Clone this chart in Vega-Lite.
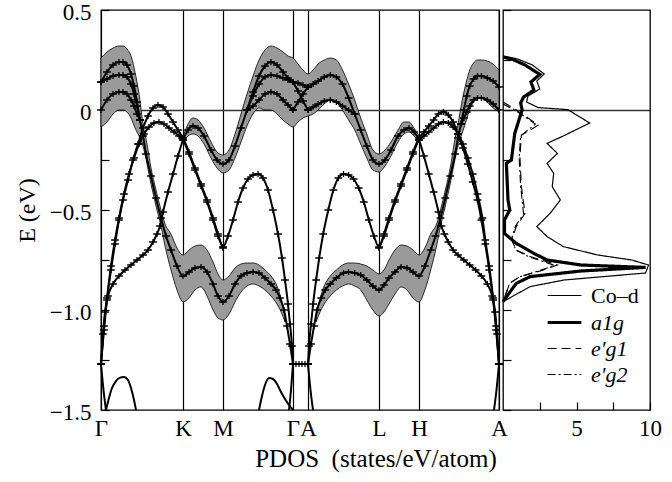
{
  "$schema": "https://vega.github.io/schema/vega-lite/v6.json",
  "background": "white",
  "padding": {"left": 14, "top": 0, "right": 4, "bottom": 4},
  "config": {
    "font": "Liberation Serif",
    "view": {"stroke": "black", "strokeWidth": 1.3},
    "axis": {"labelFont": "Liberation Serif", "titleFont": "Liberation Serif", "labelColor": "black", "titleColor": "black", "titleFontWeight": "normal", "labelFontSize": 23, "titleFontSize": 24, "domain": false, "tickColor": "black", "gridColor": "black"},
    "legend": {"labelFont": "Liberation Serif", "labelColor": "black", "labelFontSize": 22}
  },
  "datasets": {
    "hatch": [
      {"g":"H1","k":0,"lo":-0.085,"hi":0.26},{"g":"H1","k":6,"lo":-0.06,"hi":0.29},{"g":"H1","k":12,"lo":-0.02,"hi":0.31},{"g":"H1","k":18,"lo":0.0,"hi":0.32},{"g":"H1","k":22,"lo":0.0,"hi":0.32},{"g":"H1","k":26,"lo":-0.01,"hi":0.305},{"g":"H1","k":30,"lo":-0.04,"hi":0.27},{"g":"H1","k":34,"lo":-0.09,"hi":0.19},{"g":"H1","k":38,"lo":-0.13,"hi":0.08},{"g":"H1","k":42,"lo":-0.18,"hi":-0.07},{"g":"H1","k":46,"lo":-0.27,"hi":-0.17},{"g":"H1","k":50,"lo":-0.37,"hi":-0.29},{"g":"H1","k":55,"lo":-0.48,"hi":-0.4},{"g":"H1","k":60,"lo":-0.58,"hi":-0.5},{"g":"H1","k":64,"lo":-0.68,"hi":-0.57},{"g":"H1","k":70,"lo":-0.8,"hi":-0.62},{"g":"H1","k":76,"lo":-0.9,"hi":-0.69},{"g":"H1","k":82,"lo":-0.96,"hi":-0.725},{"g":"H1","k":88,"lo":-0.94,"hi":-0.7},{"g":"H1","k":94,"lo":-0.9,"hi":-0.68},{"g":"H1","k":100,"lo":-0.885,"hi":-0.675},{"g":"H1","k":106,"lo":-0.93,"hi":-0.7},{"g":"H1","k":112,"lo":-1.0,"hi":-0.76},{"g":"H1","k":117,"lo":-1.04,"hi":-0.82},{"g":"H1","k":122,"lo":-1.05,"hi":-0.85},{"g":"H1","k":128,"lo":-1.02,"hi":-0.83},{"g":"H1","k":134,"lo":-0.96,"hi":-0.79},{"g":"H1","k":140,"lo":-0.91,"hi":-0.77},{"g":"H1","k":146,"lo":-0.88,"hi":-0.765},{"g":"H1","k":152,"lo":-0.87,"hi":-0.765},{"g":"H1","k":158,"lo":-0.88,"hi":-0.775},{"g":"H1","k":164,"lo":-0.9,"hi":-0.8},{"g":"H1","k":170,"lo":-0.93,"hi":-0.83},{"g":"H1","k":176,"lo":-0.97,"hi":-0.88},{"g":"H1","k":181,"lo":-1.02,"hi":-0.96},{"g":"H1","k":184,"lo":-1.06,"hi":-1.03},
      {"g":"H2","k":82,"lo":-0.165,"hi":-0.135},{"g":"H2","k":87,"lo":-0.13,"hi":-0.07},{"g":"H2","k":92,"lo":-0.12,"hi":-0.04},{"g":"H2","k":97,"lo":-0.13,"hi":-0.05},{"g":"H2","k":103,"lo":-0.17,"hi":-0.09},{"g":"H2","k":110,"lo":-0.24,"hi":-0.16},{"g":"H2","k":116,"lo":-0.29,"hi":-0.21},{"g":"H2","k":122,"lo":-0.315,"hi":-0.225},{"g":"H2","k":128,"lo":-0.3,"hi":-0.2},{"g":"H2","k":134,"lo":-0.24,"hi":-0.12},{"g":"H2","k":140,"lo":-0.16,"hi":-0.02},{"g":"H2","k":146,"lo":-0.08,"hi":0.08},{"g":"H2","k":152,"lo":-0.02,"hi":0.17},{"g":"H2","k":158,"lo":0.01,"hi":0.25},{"g":"H2","k":164,"lo":0.0,"hi":0.3},{"g":"H2","k":170,"lo":0.0,"hi":0.32},{"g":"H2","k":176,"lo":-0.02,"hi":0.31},{"g":"H2","k":182,"lo":-0.05,"hi":0.29},{"g":"H2","k":187,"lo":-0.07,"hi":0.27},{"g":"H2","k":192,"lo":-0.085,"hi":0.26},{"g":"H2","k":197,"lo":-0.06,"hi":0.23},{"g":"H2","k":202,"lo":-0.04,"hi":0.2},{"g":"H2","k":207,"lo":-0.03,"hi":0.18},{"g":"H2","k":212.1,"lo":-0.02,"hi":0.2},{"g":"H2","k":217.1,"lo":0.0,"hi":0.23},{"g":"H2","k":223.2,"lo":0.03,"hi":0.25},{"g":"H2","k":229.3,"lo":0.05,"hi":0.26},{"g":"H2","k":235.4,"lo":0.04,"hi":0.25},{"g":"H2","k":241.5,"lo":0.0,"hi":0.2},{"g":"H2","k":247.6,"lo":-0.05,"hi":0.13},{"g":"H2","k":253.7,"lo":-0.1,"hi":0.05},{"g":"H2","k":259.7,"lo":-0.17,"hi":-0.04},{"g":"H2","k":265.8,"lo":-0.24,"hi":-0.12},{"g":"H2","k":271.9,"lo":-0.3,"hi":-0.2},{"g":"H2","k":278,"lo":-0.31,"hi":-0.22},{"g":"H2","k":284,"lo":-0.28,"hi":-0.2},{"g":"H2","k":290,"lo":-0.23,"hi":-0.16},{"g":"H2","k":297,"lo":-0.16,"hi":-0.1},{"g":"H2","k":303,"lo":-0.12,"hi":-0.06},{"g":"H2","k":308,"lo":-0.11,"hi":-0.06},{"g":"H2","k":313,"lo":-0.13,"hi":-0.09},{"g":"H2","k":318,"lo":-0.16,"hi":-0.13},
      {"g":"H3","k":215.1,"lo":-1.06,"hi":-1.03},{"g":"H3","k":218.2,"lo":-1.02,"hi":-0.96},{"g":"H3","k":223.2,"lo":-0.97,"hi":-0.88},{"g":"H3","k":229.3,"lo":-0.93,"hi":-0.83},{"g":"H3","k":235.4,"lo":-0.9,"hi":-0.8},{"g":"H3","k":241.5,"lo":-0.88,"hi":-0.775},{"g":"H3","k":247.6,"lo":-0.87,"hi":-0.765},{"g":"H3","k":253.7,"lo":-0.88,"hi":-0.765},{"g":"H3","k":259.7,"lo":-0.9,"hi":-0.77},{"g":"H3","k":265.8,"lo":-0.95,"hi":-0.78},{"g":"H3","k":271.9,"lo":-1.0,"hi":-0.8},{"g":"H3","k":278,"lo":-1.03,"hi":-0.82},{"g":"H3","k":283,"lo":-1.01,"hi":-0.8},{"g":"H3","k":288,"lo":-0.97,"hi":-0.75},{"g":"H3","k":294,"lo":-0.92,"hi":-0.7},{"g":"H3","k":300,"lo":-0.885,"hi":-0.675},{"g":"H3","k":306,"lo":-0.9,"hi":-0.68},{"g":"H3","k":312,"lo":-0.94,"hi":-0.7},{"g":"H3","k":318,"lo":-0.96,"hi":-0.725},{"g":"H3","k":323.9,"lo":-0.9,"hi":-0.69},{"g":"H3","k":329.7,"lo":-0.8,"hi":-0.62},{"g":"H3","k":335.6,"lo":-0.68,"hi":-0.57},{"g":"H3","k":339.5,"lo":-0.58,"hi":-0.5},{"g":"H3","k":344.3,"lo":-0.48,"hi":-0.4},{"g":"H3","k":349.2,"lo":-0.37,"hi":-0.29},{"g":"H3","k":353.1,"lo":-0.27,"hi":-0.17},{"g":"H3","k":357,"lo":-0.18,"hi":-0.07},{"g":"H3","k":360.9,"lo":-0.12,"hi":0.04},{"g":"H3","k":364.8,"lo":-0.06,"hi":0.13},{"g":"H3","k":368.7,"lo":0.0,"hi":0.2},{"g":"H3","k":372.6,"lo":0.04,"hi":0.235},{"g":"H3","k":376.5,"lo":0.06,"hi":0.25},{"g":"H3","k":380.4,"lo":0.06,"hi":0.25},{"g":"H3","k":386.3,"lo":0.04,"hi":0.245},{"g":"H3","k":392.1,"lo":0.01,"hi":0.23},{"g":"H3","k":398,"lo":-0.01,"hi":0.2}
    ],
    "bands": [
      {"b":"L1","k":0,"E":0.14,"m":1},{"b":"L1","k":6,"E":0.19,"m":1},{"b":"L1","k":12,"E":0.225,"m":1},{"b":"L1","k":18,"E":0.24,"m":1},{"b":"L1","k":22,"E":0.24,"m":1},{"b":"L1","k":26,"E":0.225,"m":1},{"b":"L1","k":30,"E":0.18,"m":1},{"b":"L1","k":33,"E":0.12,"m":1},{"b":"L1","k":36,"E":0.04,"m":1},{"b":"L1","k":39,"E":-0.05,"m":1},{"b":"L1","k":42,"E":-0.13,"m":1},{"b":"L1","k":45,"E":-0.22,"m":1},{"b":"L1","k":50,"E":-0.33,"m":1},{"b":"L1","k":55,"E":-0.44,"m":1},{"b":"L1","k":60,"E":-0.54,"m":1},{"b":"L1","k":65,"E":-0.63,"m":1},{"b":"L1","k":70,"E":-0.7,"m":1},{"b":"L1","k":76,"E":-0.78,"m":1},{"b":"L1","k":82,"E":-0.83,"m":1},{"b":"L1","k":88,"E":-0.81,"m":1},{"b":"L1","k":94,"E":-0.79,"m":1},{"b":"L1","k":100,"E":-0.785,"m":1},{"b":"L1","k":106,"E":-0.81,"m":1},{"b":"L1","k":112,"E":-0.87,"m":1},{"b":"L1","k":117,"E":-0.93,"m":1},{"b":"L1","k":122,"E":-0.96,"m":1},{"b":"L1","k":128,"E":-0.93,"m":1},{"b":"L1","k":134,"E":-0.87,"m":1},{"b":"L1","k":140,"E":-0.83,"m":1},{"b":"L1","k":146,"E":-0.815,"m":1},{"b":"L1","k":152,"E":-0.81,"m":1},{"b":"L1","k":158,"E":-0.815,"m":1},{"b":"L1","k":164,"E":-0.84,"m":1},{"b":"L1","k":170,"E":-0.87,"m":1},{"b":"L1","k":175,"E":-0.9,"m":1},{"b":"L1","k":179,"E":-0.94,"m":1},{"b":"L1","k":183,"E":-1.0,"m":1},{"b":"L1","k":186,"E":-1.08,"m":1},{"b":"L1","k":189,"E":-1.17,"m":1},{"b":"L1","k":192,"E":-1.27,"m":1},
      {"b":"L2","k":0,"E":0.14,"m":1},{"b":"L2","k":6,"E":0.155,"m":1},{"b":"L2","k":12,"E":0.17,"m":1},{"b":"L2","k":18,"E":0.175,"m":1},{"b":"L2","k":22,"E":0.175,"m":1},{"b":"L2","k":26,"E":0.165,"m":1},{"b":"L2","k":30,"E":0.13,"m":1},{"b":"L2","k":33,"E":0.08,"m":1},{"b":"L2","k":36,"E":0.02,"m":1},{"b":"L2","k":39,"E":-0.05,"m":1},
      {"b":"L3","k":0,"E":0.0,"m":1},{"b":"L3","k":6,"E":0.05,"m":1},{"b":"L3","k":12,"E":0.08,"m":1},{"b":"L3","k":18,"E":0.09,"m":1},{"b":"L3","k":22,"E":0.09,"m":1},{"b":"L3","k":26,"E":0.08,"m":1},{"b":"L3","k":30,"E":0.05,"m":1},{"b":"L3","k":33,"E":0.02,"m":1},{"b":"L3","k":36,"E":-0.02,"m":1},{"b":"L3","k":39,"E":-0.05,"m":1},
      {"b":"A1","k":0,"E":-1.27,"m":1},{"b":"A1","k":3,"E":-1.1,"m":1},{"b":"A1","k":6,"E":-0.95,"m":1},{"b":"A1","k":10,"E":-0.8,"m":1},{"b":"A1","k":14,"E":-0.67,"m":1},{"b":"A1","k":18,"E":-0.55,"m":1},{"b":"A1","k":22,"E":-0.45,"m":1},{"b":"A1","k":27,"E":-0.35,"m":1},{"b":"A1","k":32,"E":-0.25,"m":1},{"b":"A1","k":37,"E":-0.17,"m":1},{"b":"A1","k":42,"E":-0.09,"m":1},{"b":"A1","k":47,"E":-0.03,"m":1},{"b":"A1","k":52,"E":0.01,"m":1},{"b":"A1","k":57,"E":0.025,"m":1},{"b":"A1","k":62,"E":0.015,"m":1},{"b":"A1","k":67,"E":-0.02,"m":1},{"b":"A1","k":72,"E":-0.06,"m":1},{"b":"A1","k":77,"E":-0.1,"m":1},{"b":"A1","k":82,"E":-0.14,"m":1},{"b":"A1","k":88,"E":-0.21,"m":1},{"b":"A1","k":94,"E":-0.29,"m":1},{"b":"A1","k":100,"E":-0.37,"m":1},{"b":"A1","k":106,"E":-0.45,"m":1},{"b":"A1","k":112,"E":-0.54,"m":1},{"b":"A1","k":117,"E":-0.62,"m":1},{"b":"A1","k":122,"E":-0.685,"m":1},{"b":"A1","k":127,"E":-0.63,"m":1},{"b":"A1","k":132,"E":-0.55,"m":1},{"b":"A1","k":137,"E":-0.46,"m":1},{"b":"A1","k":142,"E":-0.39,"m":1},{"b":"A1","k":147,"E":-0.345,"m":1},{"b":"A1","k":152,"E":-0.325,"m":1},{"b":"A1","k":157,"E":-0.32,"m":1},{"b":"A1","k":162,"E":-0.34,"m":1},{"b":"A1","k":167,"E":-0.4,"m":1},{"b":"A1","k":172,"E":-0.5,"m":1},{"b":"A1","k":177,"E":-0.62,"m":1},{"b":"A1","k":181,"E":-0.74,"m":1},{"b":"A1","k":184,"E":-0.85,"m":1},{"b":"A1","k":187,"E":-0.97,"m":1},{"b":"A1","k":189,"E":-1.07,"m":1},{"b":"A1","k":191,"E":-1.18,"m":1},{"b":"A1","k":192,"E":-1.27,"m":1},
      {"b":"A2","k":0,"E":-1.27,"m":1},{"b":"A2","k":3,"E":-1.08,"m":1},{"b":"A2","k":6,"E":-0.94,"m":1},{"b":"A2","k":10,"E":-0.78,"m":1},{"b":"A2","k":14,"E":-0.65,"m":1},{"b":"A2","k":18,"E":-0.54,"m":1},{"b":"A2","k":23,"E":-0.42,"m":1},{"b":"A2","k":28,"E":-0.32,"m":1},{"b":"A2","k":33,"E":-0.24,"m":1},{"b":"A2","k":38,"E":-0.17,"m":1},{"b":"A2","k":43,"E":-0.12,"m":1},{"b":"A2","k":48,"E":-0.085,"m":1},{"b":"A2","k":53,"E":-0.065,"m":1},{"b":"A2","k":58,"E":-0.06,"m":1},{"b":"A2","k":63,"E":-0.07,"m":1},{"b":"A2","k":68,"E":-0.09,"m":1},{"b":"A2","k":73,"E":-0.11,"m":1},{"b":"A2","k":78,"E":-0.13,"m":1},{"b":"A2","k":82,"E":-0.15,"m":1},{"b":"A2","k":88,"E":-0.22,"m":1},{"b":"A2","k":94,"E":-0.3,"m":1},{"b":"A2","k":100,"E":-0.38,"m":1},{"b":"A2","k":106,"E":-0.46,"m":1},{"b":"A2","k":112,"E":-0.55,"m":1},{"b":"A2","k":117,"E":-0.63,"m":1},{"b":"A2","k":122,"E":-0.69,"m":1},
      {"b":"S","k":0,"E":-1.27,"m":1},{"b":"S","k":2,"E":-1.12,"m":1},{"b":"S","k":4,"E":-1.01,"m":1},{"b":"S","k":7,"E":-0.93,"m":1},{"b":"S","k":12,"E":-0.87,"m":1},{"b":"S","k":18,"E":-0.83,"m":1},{"b":"S","k":24,"E":-0.8,"m":1},{"b":"S","k":30,"E":-0.775,"m":1},{"b":"S","k":36,"E":-0.75,"m":1},{"b":"S","k":42,"E":-0.725,"m":1},{"b":"S","k":47,"E":-0.7,"m":1},{"b":"S","k":52,"E":-0.66,"m":1},{"b":"S","k":56,"E":-0.62,"m":1},{"b":"S","k":59,"E":-0.58,"m":1},{"b":"S","k":62,"E":-0.51,"m":1},{"b":"S","k":67,"E":-0.41,"m":1},{"b":"S","k":72,"E":-0.32,"m":1},{"b":"S","k":77,"E":-0.23,"m":1},{"b":"S","k":82,"E":-0.15,"m":1},{"b":"S","k":87,"E":-0.1,"m":1},{"b":"S","k":92,"E":-0.08,"m":1},{"b":"S","k":97,"E":-0.09,"m":1},{"b":"S","k":103,"E":-0.13,"m":1},{"b":"S","k":110,"E":-0.2,"m":1},{"b":"S","k":116,"E":-0.25,"m":1},{"b":"S","k":122,"E":-0.27,"m":1},{"b":"S","k":128,"E":-0.25,"m":1},{"b":"S","k":134,"E":-0.18,"m":1},{"b":"S","k":140,"E":-0.09,"m":1},{"b":"S","k":146,"E":0.0,"m":1},{"b":"S","k":152,"E":0.09,"m":1},{"b":"S","k":158,"E":0.17,"m":1},{"b":"S","k":164,"E":0.22,"m":1},{"b":"S","k":170,"E":0.24,"m":1},{"b":"S","k":176,"E":0.225,"m":1},{"b":"S","k":182,"E":0.19,"m":1},{"b":"S","k":187,"E":0.16,"m":1},{"b":"S","k":192,"E":0.14,"m":1},
      {"b":"R2","k":146,"E":0.0,"m":1},{"b":"R2","k":152,"E":0.07,"m":1},{"b":"R2","k":158,"E":0.13,"m":1},{"b":"R2","k":164,"E":0.165,"m":1},{"b":"R2","k":170,"E":0.175,"m":1},{"b":"R2","k":176,"E":0.17,"m":1},{"b":"R2","k":182,"E":0.16,"m":1},{"b":"R2","k":187,"E":0.15,"m":1},{"b":"R2","k":192,"E":0.14,"m":1},
      {"b":"R3","k":146,"E":0.0,"m":1},{"b":"R3","k":152,"E":0.02,"m":1},{"b":"R3","k":158,"E":0.05,"m":1},{"b":"R3","k":164,"E":0.08,"m":1},{"b":"R3","k":170,"E":0.09,"m":1},{"b":"R3","k":176,"E":0.08,"m":1},{"b":"R3","k":182,"E":0.05,"m":1},{"b":"R3","k":187,"E":0.025,"m":1},{"b":"R3","k":192,"E":0.0,"m":1},
      {"b":"BA1","k":5,"E":-1.5,"m":0},{"b":"BA1","k":8,"E":-1.44,"m":0},{"b":"BA1","k":11,"E":-1.39,"m":0},{"b":"BA1","k":15,"E":-1.355,"m":0},{"b":"BA1","k":19,"E":-1.338,"m":0},{"b":"BA1","k":23,"E":-1.335,"m":0},{"b":"BA1","k":27,"E":-1.35,"m":0},{"b":"BA1","k":30,"E":-1.39,"m":0},{"b":"BA1","k":33,"E":-1.45,"m":0},{"b":"BA1","k":35,"E":-1.5,"m":0},
      {"b":"BA2","k":158,"E":-1.5,"m":0},{"b":"BA2","k":161,"E":-1.43,"m":0},{"b":"BA2","k":164,"E":-1.375,"m":0},{"b":"BA2","k":168,"E":-1.34,"m":0},{"b":"BA2","k":172,"E":-1.345,"m":0},{"b":"BA2","k":176,"E":-1.37,"m":0},{"b":"BA2","k":180,"E":-1.41,"m":0},{"b":"BA2","k":184,"E":-1.445,"m":0},{"b":"BA2","k":188,"E":-1.475,"m":0},{"b":"BA2","k":192,"E":-1.5,"m":0},
      {"b":"DL","k":0,"E":-1.27,"m":0},{"b":"DL","k":2.5,"E":-1.4,"m":0},{"b":"DL","k":5,"E":-1.5,"m":0},
      {"b":"DR","k":188,"E":-1.5,"m":0},{"b":"DR","k":190,"E":-1.4,"m":0},{"b":"DR","k":192,"E":-1.27,"m":0},
      {"b":"G0","k":192,"E":-1.27,"m":1},{"b":"G0","k":195,"E":-1.27,"m":1},{"b":"G0","k":198,"E":-1.27,"m":1},{"b":"G0","k":201,"E":-1.27,"m":1},{"b":"G0","k":204,"E":-1.27,"m":1},{"b":"G0","k":207,"E":-1.27,"m":1},
      {"b":"Ga","k":192,"E":0.14,"m":1},{"b":"Ga","k":197,"E":0.135,"m":1},{"b":"Ga","k":202,"E":0.125,"m":1},{"b":"Ga","k":207,"E":0.115,"m":1},
      {"b":"Gb","k":192,"E":0.14,"m":1},{"b":"Gb","k":197,"E":0.095,"m":1},{"b":"Gb","k":202,"E":0.045,"m":1},{"b":"Gb","k":207,"E":0.0,"m":1},
      {"b":"Gc","k":192,"E":0.0,"m":1},{"b":"Gc","k":197,"E":0.04,"m":1},{"b":"Gc","k":202,"E":0.08,"m":1},{"b":"Gc","k":207,"E":0.115,"m":1},
      {"b":"L1p","k":207,"E":-1.27,"m":1},{"b":"L1p","k":210,"E":-1.17,"m":1},{"b":"L1p","k":213.1,"E":-1.08,"m":1},{"b":"L1p","k":216.1,"E":-1.0,"m":1},{"b":"L1p","k":220.2,"E":-0.94,"m":1},{"b":"L1p","k":224.2,"E":-0.9,"m":1},{"b":"L1p","k":229.3,"E":-0.87,"m":1},{"b":"L1p","k":235.4,"E":-0.84,"m":1},{"b":"L1p","k":242.5,"E":-0.815,"m":1},{"b":"L1p","k":247.6,"E":-0.81,"m":1},{"b":"L1p","k":253.7,"E":-0.815,"m":1},{"b":"L1p","k":259.7,"E":-0.825,"m":1},{"b":"L1p","k":265.8,"E":-0.85,"m":1},{"b":"L1p","k":271.9,"E":-0.88,"m":1},{"b":"L1p","k":278,"E":-0.9,"m":1},{"b":"L1p","k":283,"E":-0.875,"m":1},{"b":"L1p","k":288,"E":-0.84,"m":1},{"b":"L1p","k":294,"E":-0.81,"m":1},{"b":"L1p","k":300,"E":-0.785,"m":1},{"b":"L1p","k":306,"E":-0.79,"m":1},{"b":"L1p","k":312,"E":-0.81,"m":1},{"b":"L1p","k":318,"E":-0.83,"m":1},{"b":"L1p","k":323.9,"E":-0.78,"m":1},{"b":"L1p","k":329.7,"E":-0.7,"m":1},{"b":"L1p","k":334.6,"E":-0.63,"m":1},{"b":"L1p","k":339.5,"E":-0.54,"m":1},{"b":"L1p","k":344.3,"E":-0.44,"m":1},{"b":"L1p","k":349.2,"E":-0.33,"m":1},{"b":"L1p","k":354.1,"E":-0.22,"m":1},{"b":"L1p","k":357,"E":-0.14,"m":1},{"b":"L1p","k":360,"E":-0.07,"m":1},{"b":"L1p","k":362.9,"E":0.0,"m":1},{"b":"L1p","k":365.8,"E":0.07,"m":1},{"b":"L1p","k":368.7,"E":0.12,"m":1},{"b":"L1p","k":372.6,"E":0.155,"m":1},{"b":"L1p","k":376.5,"E":0.17,"m":1},{"b":"L1p","k":380.4,"E":0.17,"m":1},{"b":"L1p","k":386.3,"E":0.16,"m":1},{"b":"L1p","k":392.1,"E":0.145,"m":1},{"b":"L1p","k":398,"E":0.115,"m":1},
      {"b":"L3p","k":360,"E":-0.07,"m":1},{"b":"L3p","k":362.9,"E":-0.04,"m":1},{"b":"L3p","k":365.8,"E":-0.01,"m":1},{"b":"L3p","k":368.7,"E":0.02,"m":1},{"b":"L3p","k":372.6,"E":0.05,"m":1},{"b":"L3p","k":376.5,"E":0.06,"m":1},{"b":"L3p","k":380.4,"E":0.06,"m":1},{"b":"L3p","k":386.3,"E":0.05,"m":1},{"b":"L3p","k":392.1,"E":0.03,"m":1},{"b":"L3p","k":398,"E":0.0,"m":1},
      {"b":"A1p","k":207,"E":-1.27,"m":1},{"b":"A1p","k":208,"E":-1.18,"m":1},{"b":"A1p","k":210,"E":-1.07,"m":1},{"b":"A1p","k":212.1,"E":-0.97,"m":1},{"b":"A1p","k":215.1,"E":-0.85,"m":1},{"b":"A1p","k":218.2,"E":-0.74,"m":1},{"b":"A1p","k":222.2,"E":-0.62,"m":1},{"b":"A1p","k":227.3,"E":-0.5,"m":1},{"b":"A1p","k":232.4,"E":-0.4,"m":1},{"b":"A1p","k":237.4,"E":-0.34,"m":1},{"b":"A1p","k":242.5,"E":-0.32,"m":1},{"b":"A1p","k":247.6,"E":-0.325,"m":1},{"b":"A1p","k":252.6,"E":-0.345,"m":1},{"b":"A1p","k":257.7,"E":-0.39,"m":1},{"b":"A1p","k":262.8,"E":-0.46,"m":1},{"b":"A1p","k":267.9,"E":-0.55,"m":1},{"b":"A1p","k":272.9,"E":-0.63,"m":1},{"b":"A1p","k":278,"E":-0.685,"m":1},{"b":"A1p","k":283,"E":-0.62,"m":1},{"b":"A1p","k":288,"E":-0.54,"m":1},{"b":"A1p","k":294,"E":-0.45,"m":1},{"b":"A1p","k":300,"E":-0.37,"m":1},{"b":"A1p","k":306,"E":-0.29,"m":1},{"b":"A1p","k":312,"E":-0.21,"m":1},{"b":"A1p","k":318,"E":-0.14,"m":1},{"b":"A1p","k":322.9,"E":-0.11,"m":1},{"b":"A1p","k":327.8,"E":-0.08,"m":1},{"b":"A1p","k":332.6,"E":-0.05,"m":1},{"b":"A1p","k":337.5,"E":-0.02,"m":1},{"b":"A1p","k":342.4,"E":-0.01,"m":1},{"b":"A1p","k":347.3,"E":-0.025,"m":1},{"b":"A1p","k":352.1,"E":-0.06,"m":1},{"b":"A1p","k":357,"E":-0.12,"m":1},{"b":"A1p","k":361.9,"E":-0.19,"m":1},{"b":"A1p","k":366.8,"E":-0.27,"m":1},{"b":"A1p","k":371.7,"E":-0.36,"m":1},{"b":"A1p","k":376.5,"E":-0.45,"m":1},{"b":"A1p","k":380.4,"E":-0.55,"m":1},{"b":"A1p","k":384.3,"E":-0.67,"m":1},{"b":"A1p","k":388.2,"E":-0.8,"m":1},{"b":"A1p","k":392.1,"E":-0.95,"m":1},{"b":"A1p","k":395.1,"E":-1.1,"m":1},{"b":"A1p","k":398,"E":-1.27,"m":1},
      {"b":"A2p","k":278,"E":-0.69,"m":1},{"b":"A2p","k":283,"E":-0.63,"m":1},{"b":"A2p","k":288,"E":-0.55,"m":1},{"b":"A2p","k":294,"E":-0.46,"m":1},{"b":"A2p","k":300,"E":-0.38,"m":1},{"b":"A2p","k":306,"E":-0.3,"m":1},{"b":"A2p","k":312,"E":-0.22,"m":1},{"b":"A2p","k":318,"E":-0.15,"m":1},{"b":"A2p","k":322.9,"E":-0.13,"m":1},{"b":"A2p","k":327.8,"E":-0.11,"m":1},{"b":"A2p","k":332.6,"E":-0.09,"m":1},{"b":"A2p","k":337.5,"E":-0.07,"m":1},{"b":"A2p","k":342.4,"E":-0.06,"m":1},{"b":"A2p","k":347.3,"E":-0.065,"m":1},{"b":"A2p","k":352.1,"E":-0.085,"m":1},{"b":"A2p","k":357,"E":-0.12,"m":1},{"b":"A2p","k":361.9,"E":-0.17,"m":1},{"b":"A2p","k":366.8,"E":-0.24,"m":1},{"b":"A2p","k":371.7,"E":-0.32,"m":1},{"b":"A2p","k":376.5,"E":-0.42,"m":1},{"b":"A2p","k":381.4,"E":-0.54,"m":1},{"b":"A2p","k":384.3,"E":-0.65,"m":1},{"b":"A2p","k":388.2,"E":-0.78,"m":1},{"b":"A2p","k":392.1,"E":-0.94,"m":1},{"b":"A2p","k":395.1,"E":-1.08,"m":1},{"b":"A2p","k":398,"E":-1.27,"m":1},
      {"b":"Sp","k":207,"E":0.115,"m":1},{"b":"Sp","k":212.1,"E":0.13,"m":1},{"b":"Sp","k":217.1,"E":0.145,"m":1},{"b":"Sp","k":223.2,"E":0.165,"m":1},{"b":"Sp","k":229.3,"E":0.175,"m":1},{"b":"Sp","k":235.4,"E":0.165,"m":1},{"b":"Sp","k":241.5,"E":0.13,"m":1},{"b":"Sp","k":247.6,"E":0.06,"m":1},{"b":"Sp","k":253.7,"E":-0.02,"m":1},{"b":"Sp","k":259.7,"E":-0.1,"m":1},{"b":"Sp","k":265.8,"E":-0.18,"m":1},{"b":"Sp","k":271.9,"E":-0.25,"m":1},{"b":"Sp","k":278,"E":-0.27,"m":1},{"b":"Sp","k":284,"E":-0.25,"m":1},{"b":"Sp","k":290,"E":-0.2,"m":1},{"b":"Sp","k":297,"E":-0.13,"m":1},{"b":"Sp","k":303,"E":-0.1,"m":1},{"b":"Sp","k":308,"E":-0.09,"m":1},{"b":"Sp","k":313,"E":-0.11,"m":1},{"b":"Sp","k":318,"E":-0.15,"m":1},{"b":"Sp","k":322.9,"E":-0.23,"m":1},{"b":"Sp","k":327.8,"E":-0.32,"m":1},{"b":"Sp","k":332.6,"E":-0.41,"m":1},{"b":"Sp","k":337.5,"E":-0.51,"m":1},{"b":"Sp","k":340.4,"E":-0.58,"m":1},{"b":"Sp","k":343.4,"E":-0.62,"m":1},{"b":"Sp","k":347.3,"E":-0.66,"m":1},{"b":"Sp","k":352.1,"E":-0.7,"m":1},{"b":"Sp","k":357,"E":-0.725,"m":1},{"b":"Sp","k":362.9,"E":-0.75,"m":1},{"b":"Sp","k":368.7,"E":-0.775,"m":1},{"b":"Sp","k":374.6,"E":-0.8,"m":1},{"b":"Sp","k":380.4,"E":-0.83,"m":1},{"b":"Sp","k":386.3,"E":-0.87,"m":1},{"b":"Sp","k":391.2,"E":-0.93,"m":1},{"b":"Sp","k":394.1,"E":-1.01,"m":1},{"b":"Sp","k":396,"E":-1.12,"m":1},{"b":"Sp","k":398,"E":-1.27,"m":1},
      {"b":"R3p","k":207,"E":0.0,"m":1},{"b":"R3p","k":212.1,"E":0.015,"m":1},{"b":"R3p","k":217.1,"E":0.03,"m":1},{"b":"R3p","k":223.2,"E":0.045,"m":1},{"b":"R3p","k":229.3,"E":0.05,"m":1},{"b":"R3p","k":235.4,"E":0.04,"m":1},{"b":"R3p","k":241.5,"E":0.02,"m":1},{"b":"R3p","k":247.6,"E":0.0,"m":1},{"b":"R3p","k":253.7,"E":-0.02,"m":1},
      {"b":"DA1","k":207,"E":-1.27,"m":0},{"b":"DA1","k":209.5,"E":-1.4,"m":0},{"b":"DA1","k":212,"E":-1.5,"m":0},
      {"b":"DA2","k":393,"E":-1.5,"m":0},{"b":"DA2","k":395.5,"E":-1.4,"m":0},{"b":"DA2","k":398,"E":-1.27,"m":0}
    ],
    "pdos": [
      {"s":"Co–d","v":0.0,"E":0.27},{"s":"Co–d","v":1.0,"E":0.255},{"s":"Co–d","v":2.0,"E":0.225},{"s":"Co–d","v":2.8,"E":0.18},{"s":"Co–d","v":2.3,"E":0.145},{"s":"Co–d","v":2.5,"E":0.105},{"s":"Co–d","v":1.7,"E":0.07},{"s":"Co–d","v":1.6,"E":0.04},{"s":"Co–d","v":2.4,"E":0.012},{"s":"Co–d","v":4.4,"E":0.002},{"s":"Co–d","v":5.9,"E":-0.065},{"s":"Co–d","v":4.1,"E":-0.13},{"s":"Co–d","v":3.0,"E":-0.167},{"s":"Co–d","v":3.7,"E":-0.217},{"s":"Co–d","v":3.0,"E":-0.267},{"s":"Co–d","v":3.45,"E":-0.317},{"s":"Co–d","v":3.35,"E":-0.383},{"s":"Co–d","v":3.9,"E":-0.45},{"s":"Co–d","v":3.2,"E":-0.517},{"s":"Co–d","v":2.3,"E":-0.583},{"s":"Co–d","v":3.0,"E":-0.633},{"s":"Co–d","v":4.1,"E":-0.683},{"s":"Co–d","v":6.45,"E":-0.725},{"s":"Co–d","v":8.75,"E":-0.75},{"s":"Co–d","v":9.9,"E":-0.775},{"s":"Co–d","v":9.7,"E":-0.815},{"s":"Co–d","v":4.15,"E":-0.85},{"s":"Co–d","v":1.85,"E":-0.883},{"s":"Co–d","v":0.0,"E":-0.958},
      {"s":"a1g","v":0.0,"E":0.265},{"s":"a1g","v":0.6,"E":0.255},{"s":"a1g","v":1.5,"E":0.225},{"s":"a1g","v":2.5,"E":0.178},{"s":"a1g","v":1.9,"E":0.14},{"s":"a1g","v":2.1,"E":0.1},{"s":"a1g","v":1.4,"E":0.065},{"s":"a1g","v":1.2,"E":0.035},{"s":"a1g","v":1.3,"E":0.0},{"s":"a1g","v":0.8,"E":-0.117},{"s":"a1g","v":0.57,"E":-0.25},{"s":"a1g","v":0.23,"E":-0.267},{"s":"a1g","v":0.34,"E":-0.45},{"s":"a1g","v":0.46,"E":-0.5},{"s":"a1g","v":0.1,"E":-0.55},{"s":"a1g","v":0.1,"E":-0.617},{"s":"a1g","v":0.9,"E":-0.667},{"s":"a1g","v":2.1,"E":-0.717},{"s":"a1g","v":3.0,"E":-0.75},{"s":"a1g","v":5.3,"E":-0.775},{"s":"a1g","v":9.7,"E":-0.787},{"s":"a1g","v":5.3,"E":-0.805},{"s":"a1g","v":1.85,"E":-0.833},{"s":"a1g","v":0.9,"E":-0.867},{"s":"a1g","v":0.0,"E":-0.958},
      {"s":"e′g1","v":0.0,"E":0.04},{"s":"e′g1","v":0.9,"E":0.0},{"s":"e′g1","v":2.4,"E":-0.075},{"s":"e′g1","v":1.85,"E":-0.1},{"s":"e′g1","v":1.25,"E":-0.125},{"s":"e′g1","v":1.15,"E":-0.233},{"s":"e′g1","v":1.25,"E":-0.383},{"s":"e′g1","v":1.5,"E":-0.517},{"s":"e′g1","v":0.9,"E":-0.583},{"s":"e′g1","v":0.6,"E":-0.65},{"s":"e′g1","v":0.9,"E":-0.7},{"s":"e′g1","v":1.85,"E":-0.733},{"s":"e′g1","v":3.7,"E":-0.775},{"s":"e′g1","v":2.75,"E":-0.8},{"s":"e′g1","v":1.15,"E":-0.833},{"s":"e′g1","v":0.46,"E":-0.867},{"s":"e′g1","v":0.0,"E":-0.958},
      {"s":"e′g2","v":0.0,"E":0.03},{"s":"e′g2","v":0.8,"E":0.0},{"s":"e′g2","v":2.2,"E":-0.07},{"s":"e′g2","v":1.7,"E":-0.1},{"s":"e′g2","v":1.2,"E":-0.13},{"s":"e′g2","v":1.1,"E":-0.24},{"s":"e′g2","v":1.2,"E":-0.38},{"s":"e′g2","v":1.4,"E":-0.52},{"s":"e′g2","v":0.85,"E":-0.58},{"s":"e′g2","v":0.6,"E":-0.64},{"s":"e′g2","v":0.85,"E":-0.7},{"s":"e′g2","v":1.8,"E":-0.735},{"s":"e′g2","v":3.5,"E":-0.777},{"s":"e′g2","v":2.6,"E":-0.8},{"s":"e′g2","v":1.1,"E":-0.835},{"s":"e′g2","v":0.45,"E":-0.867},{"s":"e′g2","v":0.0,"E":-0.958}
    ]
  },
  "spacing": 4,
  "bounds": "flush",
  "resolve": {"scale": {"strokeDash": "independent", "strokeWidth": "independent"}, "legend": {"strokeDash": "independent", "strokeWidth": "independent"}},
  "hconcat": [
    {
      "width": 398,
      "height": 400,
      "layer": [
        {
          "data": {"name": "hatch"},
          "mark": {"type": "area", "fill": "#9a9a9a", "stroke": "black", "strokeWidth": 0.8, "interpolate": "monotone"},
          "encoding": {
            "x": {"field": "k", "type": "quantitative", "title": "PDOS\u2002(states/eV/atom)",
              "scale": {"domain": [0, 398], "nice": false, "zero": false},
              "axis": {"values": [0, 82, 122, 192, 207, 278, 318, 398],
                "labelExpr": "datum.value == 0 ? 'Γ' : datum.value == 82 ? 'K' : datum.value == 122 ? 'M' : datum.value == 192 ? 'Γ' : datum.value == 207 ? 'A' : datum.value == 278 ? 'L' : datum.value == 318 ? 'H' : 'A'",
                "grid": true, "gridColor": "black", "gridWidth": 1.2, "ticks": false, "labelFlush": false, "labelOverlap": false,
                "labelPadding": 7, "titleX": 274.5, "titleAlign": "center", "titleFontSize": 25, "titlePadding": 6}},
            "y": {"field": "lo", "type": "quantitative", "title": "E (eV)",
              "scale": {"domain": [-1.5, 0.5], "nice": false, "zero": false},
              "axis": {"values": [-1.5, -1.25, -1, -0.75, -0.5, -0.25, 0, 0.25, 0.5],
                "labelExpr": "datum.value == 0 ? '0' : (abs(datum.value * 2 - round(datum.value * 2)) > 0.01 ? '' : format(datum.value, '.1f'))",
                "tickSize": -8, "tickWidth": 1.2, "labelPadding": 18, "labelOverlap": false, "labelOffset": 2,
                "grid": true, "gridColor": "#333333", "gridWidth": 1.3,
                "gridOpacity": {"condition": {"test": "datum.value == 0", "value": 1}, "value": 0},
                "titlePadding": 10}},
            "y2": {"field": "hi"},
            "detail": {"field": "g"}
          }
        },
        {
          "data": {"name": "bands"},
          "mark": {"type": "line", "color": "black", "strokeWidth": 2, "interpolate": "monotone"},
          "encoding": {
            "x": {"field": "k", "type": "quantitative", "title": "PDOS\u2002(states/eV/atom)"},
            "y": {"field": "E", "type": "quantitative", "title": "E (eV)"},
            "detail": {"field": "b"}
          }
        },
        {
          "data": {"name": "bands"},
          "transform": [{"filter": "datum.m == 1"}],
          "mark": {"type": "point", "shape": "M-1,0H1M0,-0.75V0.75", "size": 60, "stroke": "black", "strokeWidth": 1.3, "filled": false, "opacity": 1},
          "encoding": {
            "x": {"field": "k", "type": "quantitative", "title": "PDOS\u2002(states/eV/atom)"},
            "y": {"field": "E", "type": "quantitative", "title": "E (eV)"}
          }
        }
      ]
    },
    {
      "width": 147,
      "height": 400,
      "data": {"name": "pdos"},
      "mark": {"type": "line", "color": "black", "interpolate": "linear"},
      "encoding": {
        "x": {"field": "v", "type": "quantitative", "scale": {"domain": [0, 10], "nice": false, "zero": false},
          "axis": {"values": [2.5, 5, 7.5, 10], "labelExpr": "datum.value == 5 || datum.value == 10 ? datum.label : ''",
            "tickSize": -8, "tickWidth": 1.2, "labelPadding": 15, "grid": false, "labelFlush": false, "labelOverlap": false, "title": null}},
        "y": {"field": "E", "type": "quantitative", "scale": {"domain": [-1.5, 0.5], "nice": false, "zero": false},
          "axis": {"values": [-1.5, -1.25, -1, -0.75, -0.5, -0.25, 0, 0.25, 0.5], "labels": false, "tickSize": -8, "tickWidth": 1.2,
            "grid": true, "gridColor": "#333333", "gridWidth": 1.3,
            "gridOpacity": {"condition": {"test": "datum.value == 0", "value": 1}, "value": 0}, "title": null}},
        "order": {"field": "E", "sort": "descending"},
        "strokeDash": {"field": "s", "type": "nominal",
          "scale": {"type": "ordinal", "domain": ["Co–d", "a1g", "e′g1", "e′g2"], "range": [[1, 0], [1, 0], [9, 5], [8, 3, 2, 3]]},
          "legend": {"title": null, "orient": "none", "legendX": 47, "legendY": 272, "symbolType": "M-1.35,0H1.35", "symbolSize": 625, "symbolStrokeColor": "black", "labelFontSize": 22, "rowPadding": 1, "labelOffset": 12,
            "encode": {"labels": {"update": {"fontStyle": {"signal": "datum.value == 'Co–d' ? 'normal' : 'italic'"}}}}}},
        "strokeWidth": {"field": "s", "type": "nominal",
          "scale": {"type": "ordinal", "domain": ["Co–d", "a1g", "e′g1", "e′g2"], "range": [1.2, 3.2, 1.1, 1.1]},
          "legend": {"title": null, "orient": "none", "legendX": 47, "legendY": 272, "symbolType": "M-1.35,0H1.35", "symbolSize": 625, "symbolStrokeColor": "black", "labelFontSize": 22, "rowPadding": 1, "labelOffset": 12,
            "encode": {"labels": {"update": {"fontStyle": {"signal": "datum.value == 'Co–d' ? 'normal' : 'italic'"}}}}}}
      }
    }
  ]
}
